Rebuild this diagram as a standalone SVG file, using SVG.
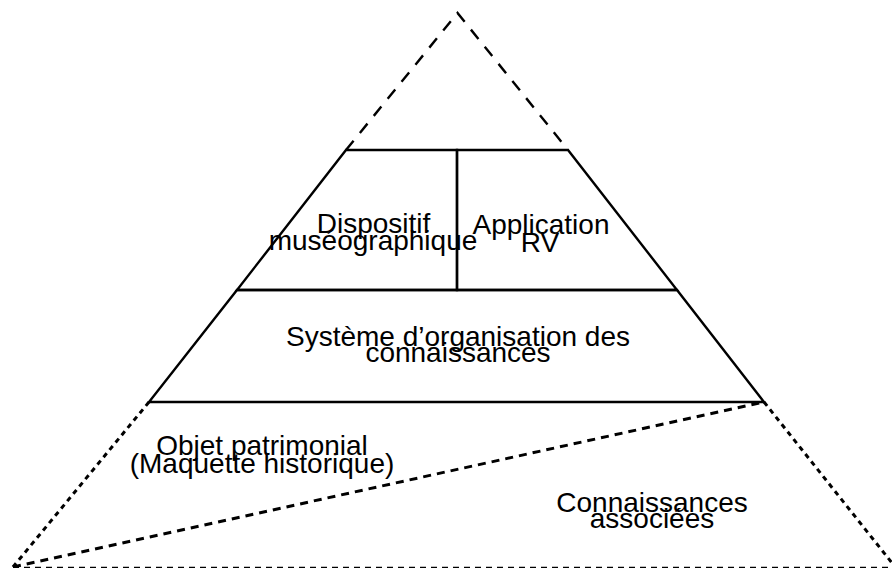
<svg xmlns="http://www.w3.org/2000/svg" width="892" height="568" viewBox="0 0 892 568">
<style>
.solid{fill:none;stroke:#000;stroke-width:2.4;stroke-linejoin:miter}
.dash{fill:none;stroke:#000;stroke-width:2.4;stroke-dasharray:12 10}
.dot{fill:none;stroke:#000;stroke-width:3;stroke-dasharray:5 4.5}
.mdash{fill:none;stroke:#000;stroke-width:3;stroke-dasharray:8 6}
.thin{fill:none;stroke:#000;stroke-width:1.7;stroke-dasharray:6 5}
.t{font-family:"Liberation Sans","DejaVu Sans",sans-serif;font-size:28px;fill:#000;text-anchor:middle}
</style>
<rect width="892" height="568" fill="#fff"/>
<g id="connectors">
<path class="dash" d="M346,150 L457.5,13 L568,150"/>
<path class="dot" d="M149,402 L13,567"/>
<path class="dot" d="M764,402 L900,573"/>
<path class="mdash" d="M13,567 L764,402"/>
<path class="thin" d="M13,567.5 L892,567.5"/>
</g>
<g id="dispositif">
<path class="solid" d="M457,150 L346,150 L237,290 L457,290 Z"/>
<text class="t" x="373.5" y="233">Dispositif</text>
<text class="t" x="373" y="250">muséographique</text>
</g>
<g id="application">
<path class="solid" d="M457,150 L568,150 L677,290 L457,290 Z"/>
<text class="t" x="541" y="234">Application</text>
<text class="t" x="540" y="251.5">RV</text>
</g>
<g id="systeme">
<path class="solid" d="M237,290 L677,290 L764,402 L149,402 Z"/>
<text class="t" x="458" y="346">Système d’organisation des</text>
<text class="t" x="458" y="362">connaissances</text>
</g>
<g id="objet">
<text class="t" x="262" y="455">Objet patrimonial</text>
<text class="t" x="262" y="473">(Maquette historique)</text>
</g>
<g id="connaissances">
<text class="t" x="652" y="511.5">Connaissances</text>
<text class="t" x="652" y="528">associées</text>
</g>
</svg>
